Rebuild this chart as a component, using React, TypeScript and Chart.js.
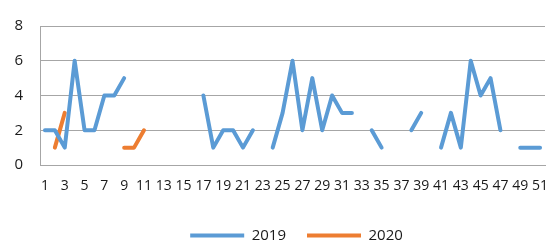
import { useEffect, useRef } from "react";
import { Chart, registerables } from "chart.js";

Chart.register(...registerables);

const categories = [
  "1", "2", "3", "4", "5", "6", "7", "8", "9", "10",
  "11", "12", "13", "14", "15", "16", "17", "18", "19", "20",
  "21", "22", "23", "24", "25", "26", "27", "28", "29", "30",
  "31", "32", "33", "34", "35", "36", "37", "38", "39", "40",
  "41", "42", "43", "44", "45", "46", "47", "48", "49", "50", "51",
];

const series2019: (number | null)[] = [
  2, 2, 1, 6, 2, 2, 4, 4, 5, null,
  null, null, null, null, null, null, 4, 1, 2, 2,
  1, 2, null, 1, 3, 6, 2, 5, 2, 4,
  3, 3, null, 2, 1, null, null, 2, 3, null,
  1, 3, 1, 6, 4, 5, 2, null, 1, 1, 1,
];

const series2020: (number | null)[] = [
  null, 1, 3, null, null, null, null, null, 1, 1,
  2, null, null, null, null, null, null, null, null, null,
  null, null, null, null, null, null, null, null, null, null,
  null, null, null, null, null, null, null, null, null, null,
  null, null, null, null, null, null, null, null, null, null, null,
];

const seriesNames = ["2019", "2020"];
const seriesColors = ["#5b9bd5", "#ed7d31"];
const yTicks = [0, 2, 4, 6, 8];

const FONT = "'Open Sans', 'Liberation Sans', sans-serif";
const GRID = "#a6a6a6";
const TEXT = "#1a1a1a";

const legendShift = {
  id: "legendShift",
  afterLayout(chart: any) {
    const l = chart.legend;
    if (l) {
      l.left += 24;
      l.right += 24;
    }
  },
};

export default function App() {
  const ref = useRef<HTMLCanvasElement | null>(null);

  useEffect(() => {
    if (!ref.current) return;
    const chart = new Chart(ref.current, {
      type: "line",
      data: {
        labels: categories,
        datasets: [series2019, series2020].map((d, i) => ({
          label: seriesNames[i],
          data: d,
          borderColor: seriesColors[i],
          backgroundColor: seriesColors[i],
          borderWidth: 4,
          pointRadius: 0,
          pointHoverRadius: 0,
          tension: 0,
          spanGaps: false,
          borderJoinStyle: "round" as const,
          borderCapStyle: "round" as const,
        })),
      },
      plugins: [legendShift],
      options: {
        animation: false,
        responsive: false,
        maintainAspectRatio: false,
        layout: { padding: { left: 0, right: 6, top: 21, bottom: -8 } },
        plugins: {
          tooltip: { enabled: false },
          legend: {
            position: "bottom",
            labels: {
              boxWidth: 54,
              boxHeight: 4,
              padding: 21,
              color: TEXT,
              font: { family: FONT, size: 15 },
              generateLabels: (c: any) =>
                c.data.datasets.map((ds: any, i: number) => ({
                  text: ds.label,
                  fillStyle: ds.borderColor,
                  strokeStyle: ds.borderColor,
                  lineWidth: 0,
                  hidden: false,
                  datasetIndex: i,
                  fontColor: TEXT,
                })),
            },
          },
        },
        scales: {
          x: {
            offset: true,
            grid: { display: false, drawTicks: false },
            border: { display: true, color: GRID, width: 1 },
            ticks: {
              autoSkip: false,
              maxRotation: 0,
              minRotation: 0,
              padding: 13,
              color: TEXT,
              font: { family: FONT, size: 14 },
              callback: (_v: any, idx: number) => (idx % 2 === 0 ? categories[idx] : ""),
            },
            afterFit: (s: any) => {
              s.height = 42;
              s.paddingLeft = 0;
              s.paddingRight = 0;
            },
          },
          y: {
            min: 0,
            max: 8,
            afterBuildTicks: (s: any) => {
              s.ticks = yTicks.map((v) => ({ value: v }));
            },
            grid: { color: GRID, lineWidth: 1, drawTicks: false },
            border: { display: true, color: GRID, width: 1 },
            ticks: {
              padding: 17,
              color: TEXT,
              font: { family: FONT, size: 15 },
            },
            afterFit: (s: any) => {
              s.width = 40;
            },
          },
        },
      },
    } as any);
    return () => chart.destroy();
  }, []);

  return (
    <div style={{ position: "fixed", left: 0, top: 0, width: 551, height: 245, background: "#fff" }}>
      <canvas ref={ref} width={551} height={245} style={{ display: "block" }} />
    </div>
  );
}
